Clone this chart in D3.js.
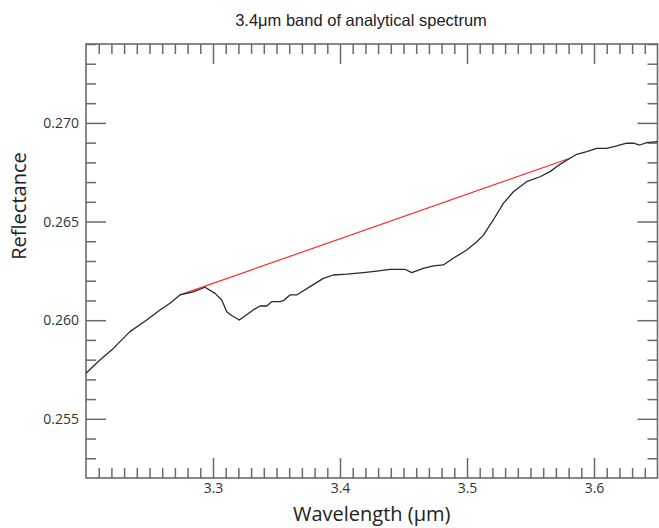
<!DOCTYPE html>
<html>
<head>
<meta charset="utf-8">
<script src="https://cdn.jsdelivr.net/npm/d3@7"></script>
<style>
  body { margin: 0; background: #fff; }
  .tick text { font-family: "Open Sans", sans-serif; fill: #333; }
</style>
</head>
<body>
<div id="chart"></div>
<script>
// spectrum
var wavelength = [3.200, 3.211, 3.2215, 3.2346, 3.2478, 3.2583, 3.2661, 3.274, 3.2845, 3.2937,
  3.3016, 3.3069, 3.3108, 3.3147, 3.3207, 3.3317, 3.337, 3.3423, 3.3462, 3.3528,
  3.3554, 3.3606, 3.3659, 3.3764, 3.3869, 3.3947, 3.4053, 3.4183, 3.4289, 3.4394,
  3.4512, 3.4565, 3.4656, 3.4735, 3.4813, 3.4892, 3.4998, 3.5077, 3.5128, 3.5207,
  3.5286, 3.5365, 3.547, 3.5575, 3.5654, 3.5732, 3.5811, 3.5864, 3.5943, 3.6021,
  3.61, 3.6179, 3.6257, 3.631, 3.6362, 3.6415, 3.65];
var reflectance = [0.25731, 0.25798, 0.25857, 0.25942, 0.26001, 0.26052, 0.26086, 0.26128, 0.26144, 0.26167,
  0.26136, 0.26102, 0.26043, 0.26024, 0.26001, 0.26052, 0.26072, 0.26072, 0.26094, 0.26094,
  0.26099, 0.26128, 0.26128, 0.2617, 0.26212, 0.26229, 0.26233, 0.26241, 0.26249, 0.26258,
  0.26258, 0.26241, 0.26263, 0.26275, 0.2628, 0.26314, 0.26356, 0.26398, 0.2643, 0.26508,
  0.26592, 0.26651, 0.26702, 0.26727, 0.26753, 0.2679, 0.26821, 0.26841, 0.26854, 0.26871,
  0.26871, 0.26883, 0.26897, 0.26897, 0.26888, 0.269, 0.26905];

// straight continuum over the band
var continuumX = [3.274, 3.581];
var continuumY = [0.26128, 0.26821];

var xTicks = [3.3, 3.4, 3.5, 3.6];
var xTickLabels = ["3.3", "3.4", "3.5", "3.6"];
var yTicks = [0.255, 0.260, 0.265, 0.270];
var yTickLabels = ["0.255", "0.260", "0.265", "0.270"];

var titleText = "3.4\u03bcm band of analytical spectrum";
var xLabel = "Wavelength (\u03bcm)";
var yLabel = "Reflectance";

var W = 659, H = 528;
var margin = { top: 44, right: 1.5, bottom: 50, left: 86 };
var width = W - margin.left - margin.right;
var height = H - margin.top - margin.bottom;
var frameColor = "#6a6a6a";

var x = d3.scaleLinear().domain([3.2, 3.65]).range([0, width]);
var y = d3.scaleLinear().domain([0.252, 0.274]).range([height, 0]);

var xMinor = d3.range(3.21, 3.65, 0.01).filter(function(v) {
  return Math.abs(Math.round(v * 10) - v * 10) > 1e-6;
});
var yMinor = d3.range(0.253, 0.274, 0.001).filter(function(v) {
  return Math.abs(Math.round(v * 200) - v * 200) > 1e-6;
});

var svg = d3.select("#chart").append("svg")
    .attr("width", W)
    .attr("height", H);

var g = svg.append("g")
    .attr("transform", "translate(" + margin.left + "," + margin.top + ")");

function styleAxis(sel) {
  sel.select(".domain").remove();
  sel.selectAll(".tick line")
    .attr("stroke", frameColor)
    .attr("stroke-width", 1.5);
}

// minor ticks, pointing inwards on all four sides
g.append("g").attr("transform", "translate(0," + height + ")")
  .call(d3.axisBottom(x).tickValues(xMinor).tickSize(-10).tickFormat(""))
  .call(styleAxis);
g.append("g")
  .call(d3.axisTop(x).tickValues(xMinor).tickSize(-10).tickFormat(""))
  .call(styleAxis);
g.append("g")
  .call(d3.axisLeft(y).tickValues(yMinor).tickSize(-10).tickFormat(""))
  .call(styleAxis);
g.append("g").attr("transform", "translate(" + width + ",0)")
  .call(d3.axisRight(y).tickValues(yMinor).tickSize(-10).tickFormat(""))
  .call(styleAxis);

// major ticks
g.append("g").attr("transform", "translate(0," + height + ")")
  .call(d3.axisBottom(x).tickValues(xTicks).tickSize(-20)
    .tickFormat(function(d, i) { return xTickLabels[i]; }))
  .call(styleAxis)
  .call(function(a) {
    a.selectAll(".tick text").attr("y", 5).attr("dy", "0.71em")
      .style("font-size", "14px");
  });
g.append("g")
  .call(d3.axisTop(x).tickValues(xTicks).tickSize(-20).tickFormat(""))
  .call(styleAxis);
g.append("g")
  .call(d3.axisLeft(y).tickValues(yTicks).tickSize(-20)
    .tickFormat(function(d, i) { return yTickLabels[i]; }))
  .call(styleAxis)
  .call(function(a) {
    a.selectAll(".tick text").attr("x", -7).style("font-size", "14px");
  });
g.append("g").attr("transform", "translate(" + width + ",0)")
  .call(d3.axisRight(y).tickValues(yTicks).tickSize(-20).tickFormat(""))
  .call(styleAxis);

// frame
g.append("rect")
    .attr("width", width)
    .attr("height", height)
    .attr("fill", "none")
    .attr("stroke", frameColor)
    .attr("stroke-width", 1.6);

var line = d3.line()
    .x(function(d) { return x(d[0]); })
    .y(function(d) { return y(d[1]); });

g.append("path")
    .datum(d3.zip(continuumX, continuumY))
    .attr("fill", "none")
    .attr("stroke", "#ff2b2b")
    .attr("stroke-width", 1.2)
    .attr("d", line);

g.append("path")
    .datum(d3.zip(wavelength, reflectance))
    .attr("fill", "none")
    .attr("stroke", "#2a2a2a")
    .attr("stroke-width", 1.3)
    .attr("stroke-linejoin", "round")
    .attr("d", line);

// texts
svg.append("text")
    .attr("x", 361)
    .attr("y", 26)
    .attr("text-anchor", "middle")
    .style("font-family", "'Liberation Sans', Arial, sans-serif")
    .style("font-size", "16.5px")
    .style("fill", "#222")
    .text(titleText);

svg.append("text")
    .attr("x", margin.left + width / 2)
    .attr("y", 521)
    .attr("text-anchor", "middle")
    .style("font-family", "'Open Sans', sans-serif")
    .style("font-size", "20px")
    .style("fill", "#222")
    .text(xLabel);

svg.append("text")
    .attr("transform", "translate(26,206) rotate(-90)")
    .attr("text-anchor", "middle")
    .style("font-family", "'Open Sans', sans-serif")
    .style("font-size", "20px")
    .style("fill", "#222")
    .text(yLabel);
</script>
</body>
</html>
